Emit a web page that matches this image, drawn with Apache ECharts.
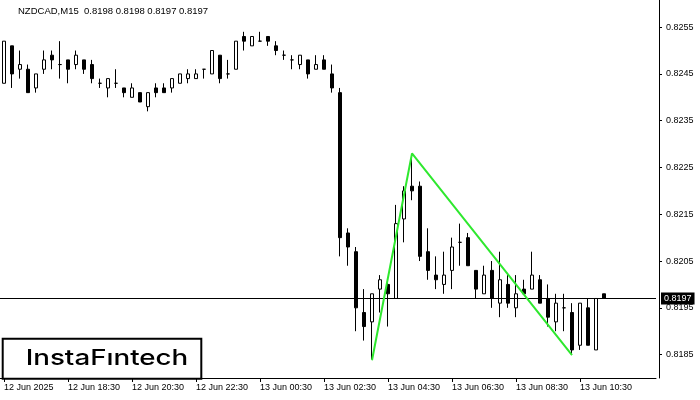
<!DOCTYPE html>
<html><head><meta charset="utf-8">
<script src="https://cdn.jsdelivr.net/npm/echarts@6/dist/echarts.min.js"></script>
<style>html,body{margin:0;padding:0;background:#fff}#c{width:700px;height:400px}</style>
</head><body><div id="c"></div>
<script>
const titleText = 'NZDCAD,M15  0.8198 0.8198 0.8197 0.8197';
const tickLabels = ['12 Jun 2025','12 Jun 18:30','12 Jun 20:30','12 Jun 22:30','13 Jun 00:30','13 Jun 02:30','13 Jun 04:30','13 Jun 06:30','13 Jun 08:30','13 Jun 10:30'];
const yTicks = [0.8185,0.8195,0.8205,0.8215,0.8225,0.8235,0.8245,0.8255];
const currentPrice = 0.8197;

const opens = [0.8243,0.8251,0.8246,0.8246,0.8242,0.8246,0.8249,0.8247,0.8248,0.8247,
0.8248,0.8247,0.8243,0.8242,0.8243,0.8242,0.8240,0.8241,0.8238,0.8242,
0.8242,0.8242,0.8243,0.8244,0.8244,0.8246,0.8245,0.8249,0.8245,0.8246,
0.8253,0.8251,0.8252,0.8253,0.8251,0.8249,0.8248,0.8247,0.8248,0.8246,
0.8248,0.8245,0.8241,0.8211,0.8207,0.8194,0.8192,0.8199,0.8200,0.8197,
0.8214,0.8221,0.8221,0.8207,0.8202,0.8200,0.8203,0.8209,0.8210,0.8203,
0.8198,0.8203,0.8196,0.8200,0.8195,0.8199,0.8199,0.8201,0.8197,0.8192,
0.8195,0.8194,0.8187,0.8195,0.8186,0.8198];
const closes = [0.8252,0.8245,0.8247,0.8241,0.8245,0.8248,0.8248,0.8247,0.8246,0.8249,
0.8246,0.8244,0.8243,0.8244,0.8243,0.8241,0.8242,0.8239,0.8241,0.8241,
0.8241,0.8244,0.8245,0.8245,0.8245,0.8246,0.8250,0.8244,0.8245,0.8252,
0.8252,0.8253,0.8252,0.8252,0.8250,0.8249,0.8248,0.8249,0.8245,0.8247,
0.8246,0.8242,0.8210,0.8208,0.8195,0.8191,0.8198,0.8201,0.8198,0.8213,
0.8220,0.8220,0.8206,0.8203,0.8201,0.8202,0.8208,0.8209,0.8204,0.8199,
0.8202,0.8197,0.8201,0.8196,0.8198,0.8198,0.8202,0.8196,0.8193,0.8196,
0.8195,0.8186,0.8196,0.8187,0.8197,0.8197];
const lows = [0.8243,0.8242,0.8244,0.8241,0.8241,0.8245,0.8246,0.8244,0.8243,0.8246,
0.8245,0.8243,0.8242,0.8240,0.8242,0.8240,0.8240,0.8239,0.8237,0.8240,
0.8241,0.8241,0.8243,0.8243,0.8244,0.8244,0.8245,0.8243,0.8244,0.8246,
0.8250,0.8251,0.8252,0.8251,0.8249,0.8248,0.8246,0.8246,0.8244,0.8246,
0.8246,0.8241,0.8206,0.8204,0.8190,0.8188,0.8184,0.8194,0.8191,0.8197,
0.8209,0.8218,0.8205,0.8201,0.8199,0.8198,0.8199,0.8204,0.8204,0.8197,
0.8198,0.8195,0.8193,0.8195,0.8193,0.8198,0.8199,0.8196,0.8191,0.8190,
0.8190,0.8185,0.8186,0.8187,0.8186,0.8197];
const highs = [0.8252,0.8251,0.8250,0.8247,0.8245,0.8250,0.8250,0.8252,0.8248,0.8250,
0.8248,0.8248,0.8244,0.8244,0.8246,0.8242,0.8243,0.8241,0.8241,0.8243,
0.8243,0.8244,0.8245,0.8246,0.8246,0.8246,0.8250,0.8249,0.8248,0.8252,
0.8254,0.8253,0.8254,0.8253,0.8252,0.8250,0.8249,0.8249,0.8248,0.8249,
0.8249,0.8247,0.8242,0.8212,0.8208,0.8199,0.8198,0.8202,0.8201,0.8217,
0.8221,0.8227,0.8222,0.8212,0.8206,0.8207,0.8210,0.8213,0.8211,0.8203,
0.8204,0.8205,0.8207,0.8202,0.8202,0.8201,0.8207,0.8202,0.8200,0.8198,
0.8198,0.8196,0.8196,0.8197,0.8197,0.8198];

const patternX = [46, 51, 71];
const patternY = [0.81838, 0.82280, 0.81849];

const SLOT_COUNT = 82;   // 76 bars + empty shift space on the right
const slots = [];
for (let i = 0; i < SLOT_COUNT; i++) slots.push(String(i));

const candleData = opens.map((o, i) => [o, closes[i], lows[i], highs[i]]);
const patternData = patternX.map((x, k) => [x, patternY[k]]);

const FONT = 'Liberation Sans';
const showTick = (i) => i % 8 === 0 && i < opens.length;

const chart = echarts.init(document.getElementById('c'), null, {renderer: 'canvas'});
chart.setOption({
  animation: false,
  backgroundColor: '#fff',
  grid: {left: 0, top: 0, width: 656, height: 378},
  xAxis: {
    type: 'category', data: slots, boundaryGap: true,
    axisLine: {show: true, lineStyle: {color: '#000', width: 1}},
    axisTick: {show: true, alignWithLabel: true, length: 4, interval: showTick, lineStyle: {color: '#000'}},
    axisLabel: {interval: showTick, formatter: (v, i) => tickLabels[i / 8] || '', align: 'left',
      margin: 5, color: '#000', fontSize: 9, fontFamily: FONT},
    splitLine: {show: false}
  },
  yAxis: {
    type: 'value', position: 'right', offset: 3, min: 0.818, max: 0.82608,
    axisLine: {show: true, lineStyle: {color: '#000', width: 1}},
    axisTick: {show: true, length: 3, customValues: yTicks, lineStyle: {color: '#000'}},
    axisLabel: {customValues: yTicks, formatter: (v) => v.toFixed(4), margin: 7, color: '#000', fontSize: 9, fontFamily: FONT},
    splitLine: {show: false}
  },
  series: [
    {
      type: 'candlestick', data: candleData, barWidth: 4,
      itemStyle: {color: '#fff', color0: '#000', borderColor: '#000', borderColor0: '#000', borderColorDoji: '#000', borderWidth: 1},
      emphasis: {disabled: true}
    },
    {
      type: 'line', data: patternData, symbol: 'none', z: 5,
      lineStyle: {color: '#2ee82e', width: 2},
      emphasis: {disabled: true},
      markLine: {
        silent: true, symbol: ['none', 'none'], animation: false, precision: 5,
        lineStyle: {color: '#000', width: 1, type: 'solid'},
        label: {show: true, position: 'end', distance: 5, formatter: currentPrice.toFixed(4), color: '#fff',
          backgroundColor: '#000', padding: [2, 3, 1, 3], fontSize: 9, fontFamily: FONT},
        emphasis: {disabled: true},
        data: [{yAxis: currentPrice}]
      }
    }
  ],
  graphic: [
    {type: 'text', x: 18, y: 11, z: 50,
      style: {text: titleText, fontSize: 9.5, fontFamily: FONT, fill: '#000', align: 'left', verticalAlign: 'middle'}},
    {type: 'rect', z: 100, shape: {x: 2.7, y: 338.7, width: 198.6, height: 40},
      style: {fill: '#fff', stroke: '#000', lineWidth: 2}},
    {type: 'text', x: 107, y: 358.5, z: 101, scaleX: 1.26,
      style: {text: 'InstaFıntech', fontSize: 22, fontFamily: 'Inter', fontWeight: 500, fill: '#000', align: 'center', verticalAlign: 'middle'}}
  ]
});
</script></body></html>
